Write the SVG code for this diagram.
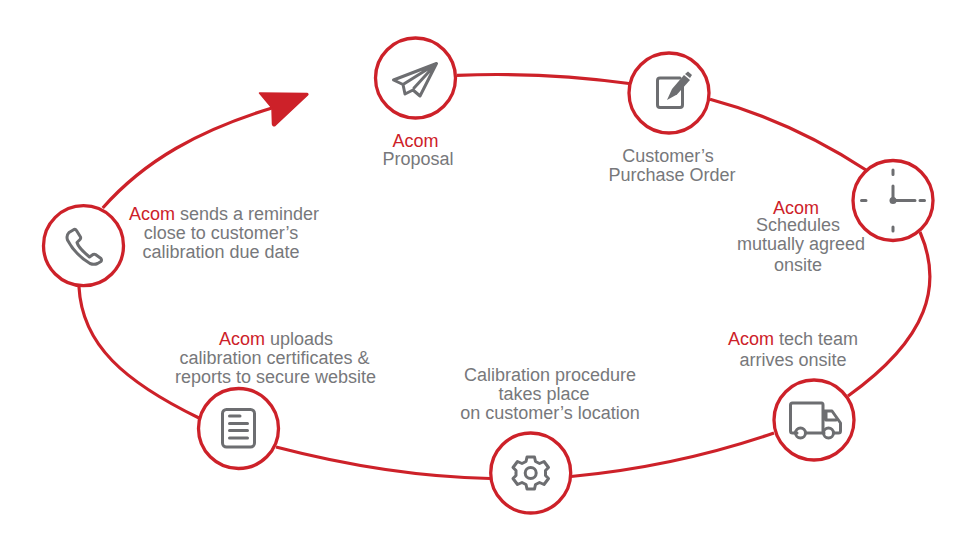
<svg xmlns="http://www.w3.org/2000/svg" width="972" height="556" viewBox="0 0 972 556">
<style>
.ring{fill:#fff;stroke:#cd2129;stroke-width:3.300}
.link{fill:none;stroke:#cd2129;stroke-width:3.200}
.ic{fill:none;stroke:#6d6e71;stroke-width:3;stroke-linejoin:round;stroke-linecap:round}
.icf{fill:#6d6e71}
text{font-family:"Liberation Sans",Arial,sans-serif;font-size:18px;fill:#77787b;text-anchor:middle}
.r{fill:#cd2129}
</style>
<rect width="972" height="556" fill="#fff"/>
<g id="connectors">
<path class="link" d="M457 75.300C515 73 575 76 629 83.500"/>
<path class="link" d="M710 99.300C765 114 820 140 866 170"/>
<path class="link" d="M920 232C943 285 929 338 848 396"/>
<path class="link" d="M774 433C710 455 640 470 571 476.500"/>
<path class="link" d="M490 478.500C420 477 345 465 276 447"/>
<path class="link" d="M199 418C125 382 82 345 79 287"/>
<path class="link" d="M102.700 208C145 160 200 130 272 108"/>
<path d="M259.500 93L307 93.500Q308.500 94 307.500 95L275 125.500Q273 126.500 272.500 124L272 108Z" fill="#cd2129" stroke="#cd2129" stroke-width="1.500" stroke-linejoin="round"/>
</g>
<g id="proposal">
<circle class="ring" cx="415.500" cy="78" r="40"/>
<path class="ic" d="M436.500 63.500L393.500 80L403 84.500L405 94L413 90L420 96ZM403 84.500L436.500 63.500L414 88"/>
<text><tspan class="r" x="415.500" y="146.500">Acom</tspan><tspan x="418" y="164.500">Proposal</tspan></text>
</g>
<g id="purchase-order">
<circle class="ring" cx="669" cy="93" r="40"/>
<path class="ic" d="M680 78H660Q657.500 78 657.500 80.500V105Q657.500 107.500 660 107.500H680Q682.500 107.500 682.500 105V85"/>
<path class="icf" d="M667 100L672 89L684 75L690 80L677 94.500Z"/>
<path d="M685 74L688 71.500L692 75L690 78Z" class="icf"/>
<text><tspan x="668" y="161.500">Customer’s</tspan><tspan x="672" y="180.500">Purchase Order</tspan></text>
</g>
<g id="schedule">
<circle class="ring" cx="893" cy="200.500" r="40"/>
<path class="ic" d="M893 170V174.500M893 227V231M861.500 200.500H866M920 200.500H924.500M893 186V200.500H915"/>
<circle class="icf" cx="893" cy="200.500" r="3.500"/>
<text><tspan class="r" x="796" y="213.500">Acom</tspan><tspan x="798" y="231">Schedules</tspan><tspan x="801" y="250">mutually agreed</tspan><tspan x="798" y="270.500">onsite</tspan></text>
</g>
<g id="tech-team">
<circle class="ring" cx="814" cy="420" r="40"/>
<path class="ic" d="M797 433H792.500Q790.500 433 790.500 431V405Q790.500 403 792.500 403H821.500Q823 403 823 405V433H807M823 411H832L840.500 423V431Q840.500 433 838.500 433H834M823 433H824M826 411V420H836"/>
<circle class="ic" cx="800.500" cy="433" r="5"/>
<circle class="ic" cx="828.500" cy="433" r="5"/>
<text><tspan x="793" y="344.500"><tspan class="r">Acom</tspan> tech team</tspan><tspan x="793" y="365.500">arrives onsite</tspan></text>
</g>
<g id="calibration">
<circle class="ring" cx="530.700" cy="473" r="40"/>
<path class="ic" d="M527 457H534.500L535.500 461.500L539.500 463.500L544 461.500L548.500 467.500L545.500 470.500V475.500L548.500 478.500L544 484.500L539.500 482.500L535.500 484.500L534.500 489H527L526 484.500L522 482.500L517.500 484.500L513 478.500L516 475.500V470.500L513 467.500L517.500 461.500L522 463.500L526 461.500Z"/>
<circle class="ic" cx="530.700" cy="473" r="5.500"/>
<text><tspan x="550" y="380.500">Calibration procedure</tspan><tspan x="544" y="399.500">takes place</tspan><tspan x="550" y="418.500">on customer’s location</tspan></text>
</g>
<g id="certificates">
<circle class="ring" cx="238.500" cy="428.500" r="40"/>
<rect class="ic" x="222.500" y="409.500" width="32" height="37.500" rx="4"/>
<path class="ic" d="M229.500 416H240M229.500 423.500H247.500M229.500 430.500H247.500M229.500 438H247.500"/>
<text><tspan x="276" y="344.500"><tspan class="r">Acom</tspan> uploads</tspan><tspan x="274.500" y="363.500">calibration certificates &amp;</tspan><tspan x="275.500" y="382.500">reports to secure website</tspan></text>
</g>
<g id="reminder">
<circle class="ring" cx="83.500" cy="245.700" r="40"/>
<path class="ic" d="M69 232.500L74 229.500Q75.500 229 76.500 230.500L80.500 237Q81 238.500 80 239.500L77 242.500Q78.500 248 89.500 257L93 254.500Q94.500 254 95.500 254.500L101 258.500Q102 260 101 261.500L97.500 263.500Q94 265 90 263.500Q75 254.500 67.500 240Q66 235.500 69 232.500Z"/>
<text><tspan x="224" y="219.500"><tspan class="r">Acom</tspan> sends a reminder</tspan><tspan x="221" y="238.500">close to customer’s</tspan><tspan x="221" y="257.500">calibration due date</tspan></text>
</g>
</svg>
